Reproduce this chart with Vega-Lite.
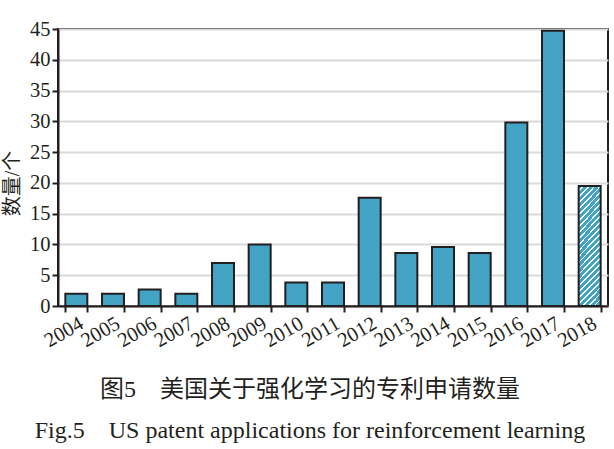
{
  "$schema": "https://vega.github.io/schema/vega-lite/v6.json",
  "width": 550,
  "height": 277,
  "autosize": {"type": "none"},
  "padding": {"left": 58, "top": 29, "right": 6, "bottom": 143},
  "background": "white",
  "title": {
    "text": ["图5　美国关于强化学习的专利申请数量", "Fig.5\u00a0\u00a0\u00a0\u00a0US patent applications for reinforcement learning"],
    "orient": "bottom",
    "anchor": "middle",
    "dx": -23,
    "offset": 27,
    "lineHeight": 41,
    "font": "Liberation Serif, Noto Sans CJK SC",
    "fontSize": 24,
    "fontWeight": "normal",
    "color": "#231f20"
  },
  "data": {
    "values": [
      {"year": "2004", "count": 2.0},
      {"year": "2005", "count": 2.0},
      {"year": "2006", "count": 2.7},
      {"year": "2007", "count": 2.0},
      {"year": "2008", "count": 7.0},
      {"year": "2009", "count": 10.0},
      {"year": "2010", "count": 3.8},
      {"year": "2011", "count": 3.8},
      {"year": "2012", "count": 17.6},
      {"year": "2013", "count": 8.6},
      {"year": "2014", "count": 9.6},
      {"year": "2015", "count": 8.6},
      {"year": "2016", "count": 29.8},
      {"year": "2017", "count": 44.7},
      {"year": "2018", "count": 19.5}
    ]
  },
  "mark": {"type": "bar", "stroke": "#231f20", "strokeWidth": 2},
  "encoding": {
    "x": {
      "field": "year",
      "type": "nominal",
      "scale": {"paddingInner": 0.4, "paddingOuter": 0.2},
      "axis": {
        "title": null,
        "labelAngle": -30,
        "labelAlign": "right",
        "labelBaseline": "top",
        "labelFont": "Liberation Serif",
        "labelFontSize": 20.5,
        "labelColor": "#231f20",
        "labelPadding": 1,
        "tickBand": "extent",
        "tickSize": 6,
        "tickWidth": 2,
        "tickColor": "#231f20",
        "domainColor": "#231f20",
        "domainWidth": 2,
        "grid": false
      }
    },
    "y": {
      "field": "count",
      "type": "quantitative",
      "scale": {"domain": [0, 45], "nice": false},
      "axis": {
        "title": "数量/个",
        "titleFont": "Liberation Serif, Noto Sans CJK SC",
        "titleFontSize": 20,
        "titleFontWeight": "normal",
        "titleColor": "#231f20",
        "titleX": -36,
        "titleY": 154,
        "titleAngle": -90,
        "titleAlign": "center",
        "titleBaseline": "bottom",
        "values": [0, 5, 10, 15, 20, 25, 30, 35, 40, 45],
        "labelFont": "Liberation Serif",
        "labelFontSize": 20.5,
        "labelColor": "#231f20",
        "labelPadding": 2,
        "tickSize": 6,
        "tickWidth": 2,
        "tickColor": "#231f20",
        "domainColor": "#231f20",
        "domainWidth": 2,
        "grid": true,
        "gridColor": "#d9d9d9",
        "gridWidth": 2
      }
    },
    "fill": {
      "condition": {
        "test": "datum.year === '2018'",
        "value": {
          "gradient": "linear",
          "x1": 0, "y1": 0, "x2": 0.218, "y2": 1.149,
          "stops": [
            {"offset": 0, "color": "#42a3c4"}, {"offset": 0.0292, "color": "#42a3c4"}, {"offset": 0.0292, "color": "#ffffff"}, {"offset": 0.0417, "color": "#ffffff"},
            {"offset": 0.0417, "color": "#42a3c4"}, {"offset": 0.0708, "color": "#42a3c4"}, {"offset": 0.0708, "color": "#ffffff"}, {"offset": 0.0833, "color": "#ffffff"},
            {"offset": 0.0833, "color": "#42a3c4"}, {"offset": 0.1125, "color": "#42a3c4"}, {"offset": 0.1125, "color": "#ffffff"}, {"offset": 0.125, "color": "#ffffff"},
            {"offset": 0.125, "color": "#42a3c4"}, {"offset": 0.1542, "color": "#42a3c4"}, {"offset": 0.1542, "color": "#ffffff"}, {"offset": 0.1667, "color": "#ffffff"},
            {"offset": 0.1667, "color": "#42a3c4"}, {"offset": 0.1958, "color": "#42a3c4"}, {"offset": 0.1958, "color": "#ffffff"}, {"offset": 0.2083, "color": "#ffffff"},
            {"offset": 0.2083, "color": "#42a3c4"}, {"offset": 0.2375, "color": "#42a3c4"}, {"offset": 0.2375, "color": "#ffffff"}, {"offset": 0.25, "color": "#ffffff"},
            {"offset": 0.25, "color": "#42a3c4"}, {"offset": 0.2792, "color": "#42a3c4"}, {"offset": 0.2792, "color": "#ffffff"}, {"offset": 0.2917, "color": "#ffffff"},
            {"offset": 0.2917, "color": "#42a3c4"}, {"offset": 0.3208, "color": "#42a3c4"}, {"offset": 0.3208, "color": "#ffffff"}, {"offset": 0.3333, "color": "#ffffff"},
            {"offset": 0.3333, "color": "#42a3c4"}, {"offset": 0.3625, "color": "#42a3c4"}, {"offset": 0.3625, "color": "#ffffff"}, {"offset": 0.375, "color": "#ffffff"},
            {"offset": 0.375, "color": "#42a3c4"}, {"offset": 0.4042, "color": "#42a3c4"}, {"offset": 0.4042, "color": "#ffffff"}, {"offset": 0.4167, "color": "#ffffff"},
            {"offset": 0.4167, "color": "#42a3c4"}, {"offset": 0.4458, "color": "#42a3c4"}, {"offset": 0.4458, "color": "#ffffff"}, {"offset": 0.4583, "color": "#ffffff"},
            {"offset": 0.4583, "color": "#42a3c4"}, {"offset": 0.4875, "color": "#42a3c4"}, {"offset": 0.4875, "color": "#ffffff"}, {"offset": 0.5, "color": "#ffffff"},
            {"offset": 0.5, "color": "#42a3c4"}, {"offset": 0.5292, "color": "#42a3c4"}, {"offset": 0.5292, "color": "#ffffff"}, {"offset": 0.5417, "color": "#ffffff"},
            {"offset": 0.5417, "color": "#42a3c4"}, {"offset": 0.5708, "color": "#42a3c4"}, {"offset": 0.5708, "color": "#ffffff"}, {"offset": 0.5833, "color": "#ffffff"},
            {"offset": 0.5833, "color": "#42a3c4"}, {"offset": 0.6125, "color": "#42a3c4"}, {"offset": 0.6125, "color": "#ffffff"}, {"offset": 0.625, "color": "#ffffff"},
            {"offset": 0.625, "color": "#42a3c4"}, {"offset": 0.6542, "color": "#42a3c4"}, {"offset": 0.6542, "color": "#ffffff"}, {"offset": 0.6667, "color": "#ffffff"},
            {"offset": 0.6667, "color": "#42a3c4"}, {"offset": 0.6958, "color": "#42a3c4"}, {"offset": 0.6958, "color": "#ffffff"}, {"offset": 0.7083, "color": "#ffffff"},
            {"offset": 0.7083, "color": "#42a3c4"}, {"offset": 0.7375, "color": "#42a3c4"}, {"offset": 0.7375, "color": "#ffffff"}, {"offset": 0.75, "color": "#ffffff"},
            {"offset": 0.75, "color": "#42a3c4"}, {"offset": 0.7792, "color": "#42a3c4"}, {"offset": 0.7792, "color": "#ffffff"}, {"offset": 0.7917, "color": "#ffffff"},
            {"offset": 0.7917, "color": "#42a3c4"}, {"offset": 0.8208, "color": "#42a3c4"}, {"offset": 0.8208, "color": "#ffffff"}, {"offset": 0.8333, "color": "#ffffff"},
            {"offset": 0.8333, "color": "#42a3c4"}, {"offset": 0.8625, "color": "#42a3c4"}, {"offset": 0.8625, "color": "#ffffff"}, {"offset": 0.875, "color": "#ffffff"},
            {"offset": 0.875, "color": "#42a3c4"}, {"offset": 0.9042, "color": "#42a3c4"}, {"offset": 0.9042, "color": "#ffffff"}, {"offset": 0.9167, "color": "#ffffff"},
            {"offset": 0.9167, "color": "#42a3c4"}, {"offset": 0.9458, "color": "#42a3c4"}, {"offset": 0.9458, "color": "#ffffff"}, {"offset": 0.9583, "color": "#ffffff"},
            {"offset": 0.9583, "color": "#42a3c4"}, {"offset": 0.9875, "color": "#42a3c4"}, {"offset": 0.9875, "color": "#ffffff"}, {"offset": 1, "color": "#ffffff"}
          ]
        }
      },
      "value": "#42a3c4"
    }
  },
  "config": {
    "view": {"stroke": "#231f20", "strokeWidth": 2}
  }
}
